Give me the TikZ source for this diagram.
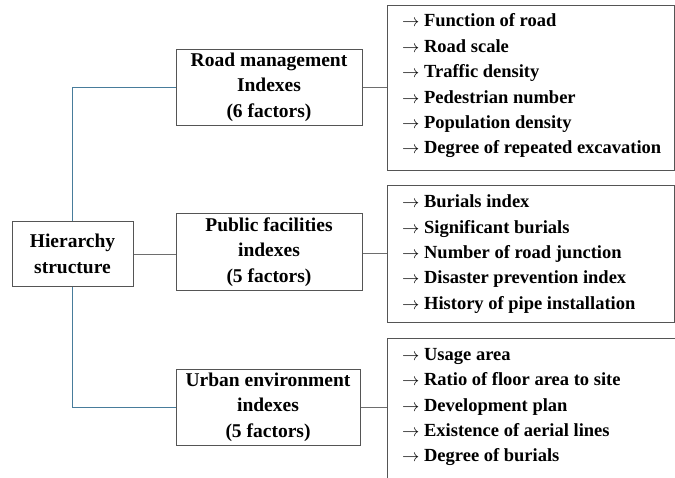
\documentclass[tikz,border=0pt]{standalone}
\usepackage{fontspec}
\setmainfont{Liberation Serif}
\usepackage{tikz}

\definecolor{boxgray}{RGB}{85,85,85}
\definecolor{linkgray}{RGB}{110,110,110}
\definecolor{treeblue}{RGB}{72,124,155}
\newcommand{\itemarrow}{$\rightarrow$\ }

\tikzset{
  headbox/.style={draw=boxgray, line width=1pt, align=center, inner sep=0pt,
    font=\bfseries\fontsize{19.5}{25.5}\selectfont},
  listbox/.style={draw=boxgray, line width=1pt, inner sep=0pt},
  items/.style={align=left, inner sep=0pt, anchor=west,
    font=\bfseries\fontsize{18.5}{25.4}\selectfont},
  bluelink/.style={draw=treeblue, line width=1pt},
  graylink/.style={draw=linkgray, line width=1pt}
}

\begin{document}
\begin{tikzpicture}[x=1pt,y=-1pt]
        \useasboundingbox (0,0) rectangle (675,477);
        \clip (0,0) rectangle (675,477);

        %%% root %%%
        \node[headbox, minimum width=121, minimum height=65] (hier) at (72.5,254) {Hierarchy\\structure};

        %%% indexes %%%
        \node[headbox, minimum width=186, minimum height=76] (road) at (269,87) {Road management\\Indexes\\(6 factors)};
        \node[headbox, minimum width=186, minimum height=77] (pub) at (269,252) {Public facilities\\indexes\\(5 factors)};
        \node[headbox, minimum width=184, minimum height=76] (urban) at (268,407) {Urban environment\\indexes\\(5 factors)};

        %%% factor boxes %%%
        \node[listbox, minimum width=287, minimum height=165] (roadlist) at (530.5,87.5) {};
        \node[listbox, minimum width=287, minimum height=137] (publist) at (530.5,253.5) {};
        \node[listbox, minimum width=313, minimum height=162] (urbanlist) at (543.5,419) {};

        \node[items] (roaditems) at (402,86) {\itemarrow Function of road\\ \itemarrow Road scale\\
          \itemarrow Traffic density\\ \itemarrow Pedestrian number\\
          \itemarrow Population density\\ \itemarrow Degree of repeated excavation};
        \node[items] (pubitems) at (402,254) {\itemarrow Burials index\\ \itemarrow Significant burials\\
          \itemarrow Number of road junction\\ \itemarrow Disaster prevention index\\
          \itemarrow History of pipe installation};
        \node[items] (urbanitems) at (402,407) {\itemarrow Usage area\\ \itemarrow Ratio of floor area to site\\
          \itemarrow Development plan\\ \itemarrow Existence of aerial lines\\
          \itemarrow Degree of burials};

        %%% links %%%
        \draw[bluelink] (hier.north) |- (road.west);
        \draw[bluelink] (hier.south) |- (urban.west);
        \draw[graylink] (hier.east) -- (hier.east -| pub.west);
        \draw[graylink] (road.east) -- (road.east -| roadlist.west);
        \draw[graylink] (pub.east |- publist.west) -- (publist.west);
        \draw[graylink] (urban.east) -- (urban.east -| urbanlist.west);

\end{tikzpicture}
\end{document}
